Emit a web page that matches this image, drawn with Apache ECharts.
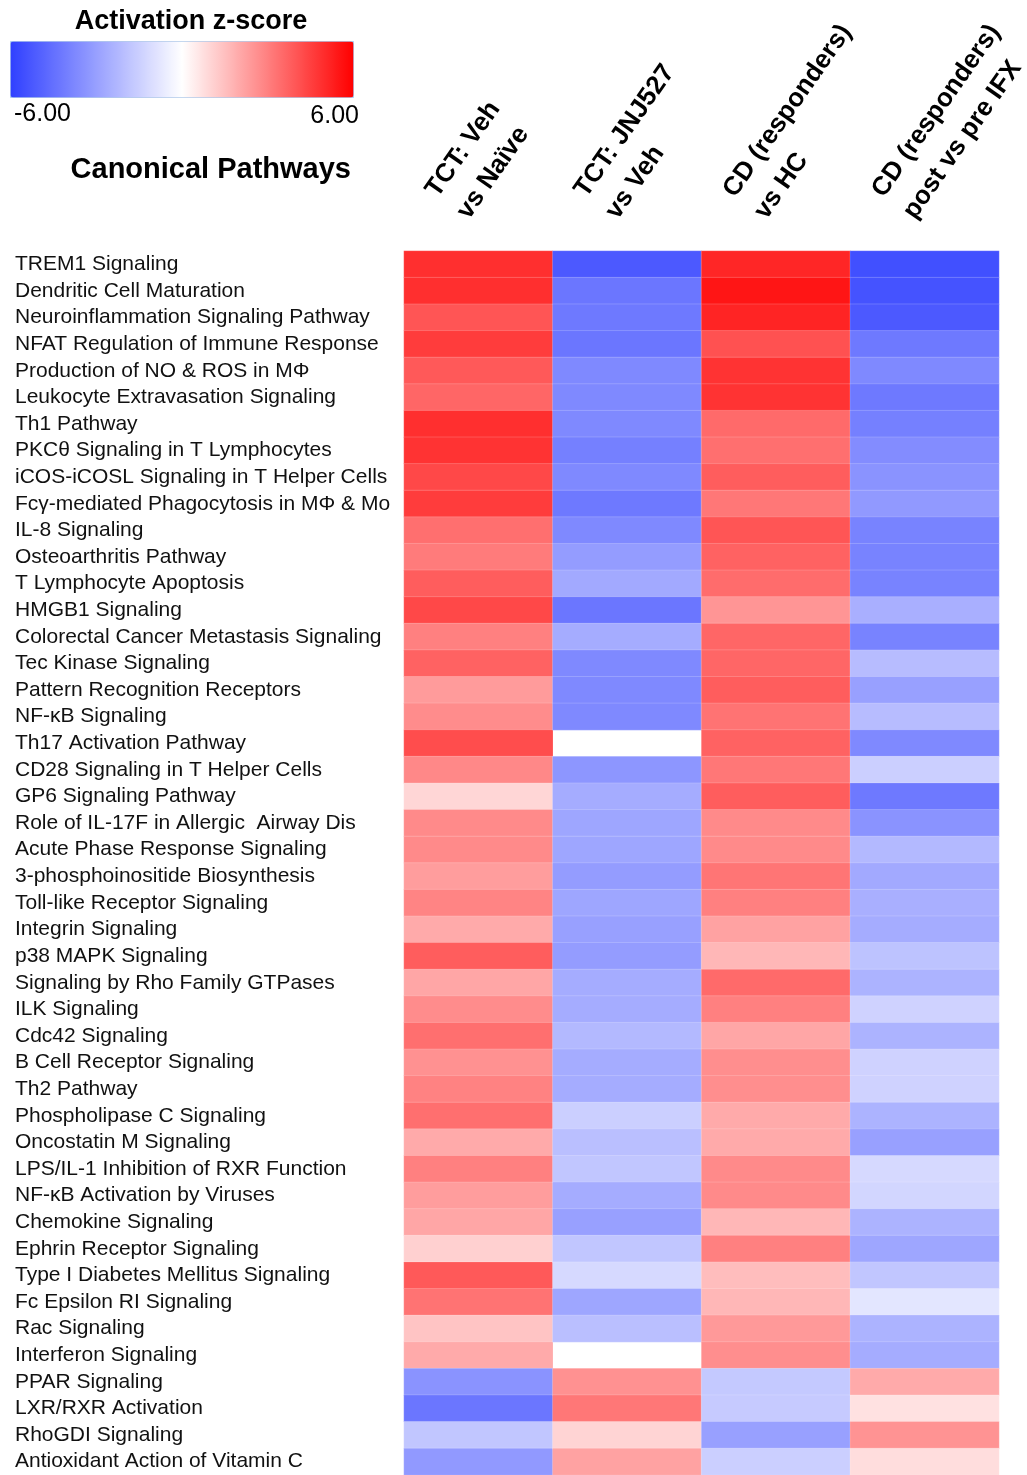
<!DOCTYPE html>
<html>
<head>
<meta charset="utf-8">
<script src="https://cdn.jsdelivr.net/npm/echarts@6/dist/echarts.min.js"></script>
<style>
html,body{margin:0;padding:0;background:#fff;}
#chart{width:1027px;height:1475px;}
</style>
</head>
<body>
<div id="chart"></div>
<script>
const pathways = [
  "TREM1 Signaling","Dendritic Cell Maturation","Neuroinflammation Signaling Pathway",
  "NFAT Regulation of Immune Response","Production of NO & ROS in MΦ","Leukocyte Extravasation Signaling",
  "Th1 Pathway","PKCθ Signaling in T Lymphocytes","iCOS-iCOSL Signaling in T Helper Cells",
  "Fcγ-mediated Phagocytosis in MΦ & Mo","IL-8 Signaling","Osteoarthritis Pathway",
  "T Lymphocyte Apoptosis","HMGB1 Signaling","Colorectal Cancer Metastasis Signaling",
  "Tec Kinase Signaling","Pattern Recognition Receptors","NF-κB Signaling",
  "Th17 Activation Pathway","CD28 Signaling in T Helper Cells","GP6 Signaling Pathway",
  "Role of IL-17F in Allergic  Airway Dis","Acute Phase Response Signaling","3-phosphoinositide Biosynthesis",
  "Toll-like Receptor Signaling","Integrin Signaling","p38 MAPK Signaling",
  "Signaling by Rho Family GTPases","ILK Signaling","Cdc42 Signaling",
  "B Cell Receptor Signaling","Th2 Pathway","Phospholipase C Signaling",
  "Oncostatin M Signaling","LPS/IL-1 Inhibition of RXR Function","NF-κB Activation by Viruses",
  "Chemokine Signaling","Ephrin Receptor Signaling","Type I Diabetes Mellitus Signaling",
  "Fc Epsilon RI Signaling","Rac Signaling","Interferon Signaling",
  "PPAR Signaling","LXR/RXR Activation","RhoGDI Signaling","Antioxidant Action of Vitamin C"
];

const comparisons = [
  "TCT: Veh\nvs Naïve",
  "TCT: JNJ527\nvs Veh",
  "CD (responders)\nvs HC",
  "CD (responders)\npost vs pre IFX"
];

const tctVehVsNaive = [4.9,4.9,4.0,4.6,3.9,3.6,4.9,4.8,4.3,4.6,3.4,3.1,3.8,4.3,3.0,3.7,2.35,2.7,4.2,2.8,0.96,2.75,2.75,2.3,2.9,2.0,3.8,2.1,2.7,3.4,2.6,2.95,3.4,2.0,3.0,2.3,2.1,1.1,3.9,3.3,1.4,2.0,-3.4,-4.3,-1.8,-3.2];
const tctJnjVsVeh = [-5.2,-4.3,-4.2,-4.3,-3.7,-3.7,-3.7,-4.0,-3.7,-4.2,-3.7,-3.1,-2.7,-4.3,-2.6,-3.7,-3.7,-3.7,null,-3.3,-2.6,-2.8,-2.8,-3.1,-2.8,-3.0,-3.1,-2.6,-2.6,-2.2,-2.6,-2.6,-1.5,-2.0,-1.8,-2.6,-3.0,-1.8,-1.2,-2.8,-2.0,null,2.6,3.2,1.0,2.2];
const cdVsHC = [5.1,5.5,5.15,4.1,4.8,4.8,3.5,3.4,3.8,3.2,4.0,3.7,3.45,2.5,3.6,3.6,3.8,3.3,3.7,3.2,3.8,2.75,2.75,3.25,3.0,2.2,1.7,3.5,3.0,2.1,2.65,2.65,2.0,2.0,2.75,2.75,1.7,3.0,1.55,1.7,2.4,2.65,-1.7,-1.65,-3.0,-1.5];
const cdPostVsPre = [-5.5,-5.4,-5.2,-4.2,-3.7,-4.2,-4.0,-3.6,-3.4,-3.2,-3.9,-3.9,-3.9,-2.5,-3.9,-2.1,-3.0,-2.1,-3.7,-1.5,-4.2,-3.4,-2.2,-2.7,-2.5,-2.6,-1.9,-2.4,-1.4,-2.4,-1.4,-1.4,-2.4,-3.0,-1.2,-1.3,-2.4,-2.8,-1.8,-0.8,-2.4,-2.6,2.0,0.7,2.55,0.8];

const seriesCols = [tctVehVsNaive, tctJnjVsVeh, cdVsHC, cdPostVsPre];
const heatData = [];
seriesCols.forEach((col, ci) => {
  col.forEach((v, ri) => {
    heatData.push([ci, ri, v === null ? '-' : v]);
  });
});

const chart = echarts.init(document.getElementById('chart'), null, {renderer: 'canvas'});
const option = {
  backgroundColor: '#ffffff',
  animation: false,
  title: [
    {text: 'Activation z-score', left: 186, top: 3, textAlign: 'center',
     textStyle: {fontFamily: 'Liberation Sans', fontWeight: 'bold', fontSize: 27, color: '#000'}},
    {text: '-6.00', left: 9, top: 97,
     textStyle: {fontFamily: 'Liberation Sans', fontWeight: 'normal', fontSize: 25, color: '#000'}},
    {text: '6.00', left: 354, top: 99, textAlign: 'right',
     textStyle: {fontFamily: 'Liberation Sans', fontWeight: 'normal', fontSize: 25, color: '#000'}},
    {text: 'Canonical Pathways', left: 346, top: 150, textAlign: 'right',
     textStyle: {fontFamily: 'Liberation Sans', fontWeight: 'bold', fontSize: 29, color: '#000'}}
  ],
  visualMap: {
    type: 'continuous',
    min: -6, max: 6,
    orient: 'horizontal',
    left: 10, top: 41,
    itemWidth: 56,
    itemHeight: 343,
    padding: 0,
    text: null,
    showLabel: false,
    calculable: false,
    borderColor: '#a8c8f0',
    borderWidth: 1,
    inRange: {color: ['#3040ff', '#ffffff', '#ff0000']}
  },
  grid: {left: 404, right: 28, top: 251, bottom: 0, containLabel: false, outerBoundsMode: 'none'},
  xAxis: {
    type: 'category',
    position: 'top',
    data: comparisons,
    axisLine: {show: false},
    axisTick: {show: false},
    splitLine: {show: false},
    axisLabel: {
      rotate: -55,
      margin: 24,
      align: 'left',
      verticalAlign: 'bottom',
      padding: [0, 0, 0, 0],
      fontFamily: 'Liberation Sans',
      fontWeight: 'bold',
      fontSize: 26,
      lineHeight: 38,
      color: '#000',
      interval: 0
    }
  },
  yAxis: {
    type: 'category',
    inverse: true,
    data: pathways,
    axisLine: {show: false},
    axisTick: {show: false},
    splitLine: {show: false},
    axisLabel: {
      align: 'left',
      margin: 389,
      fontFamily: 'Liberation Sans',
      fontSize: 21,
      color: '#111',
      interval: 0
    }
  },
  series: [{
    type: 'heatmap',
    data: heatData,
    itemStyle: {borderColor: 'rgba(255,255,255,0.35)', borderWidth: 0.5},
    emphasis: {disabled: true}
  }]
};
chart.setOption(option);
</script>
</body>
</html>
